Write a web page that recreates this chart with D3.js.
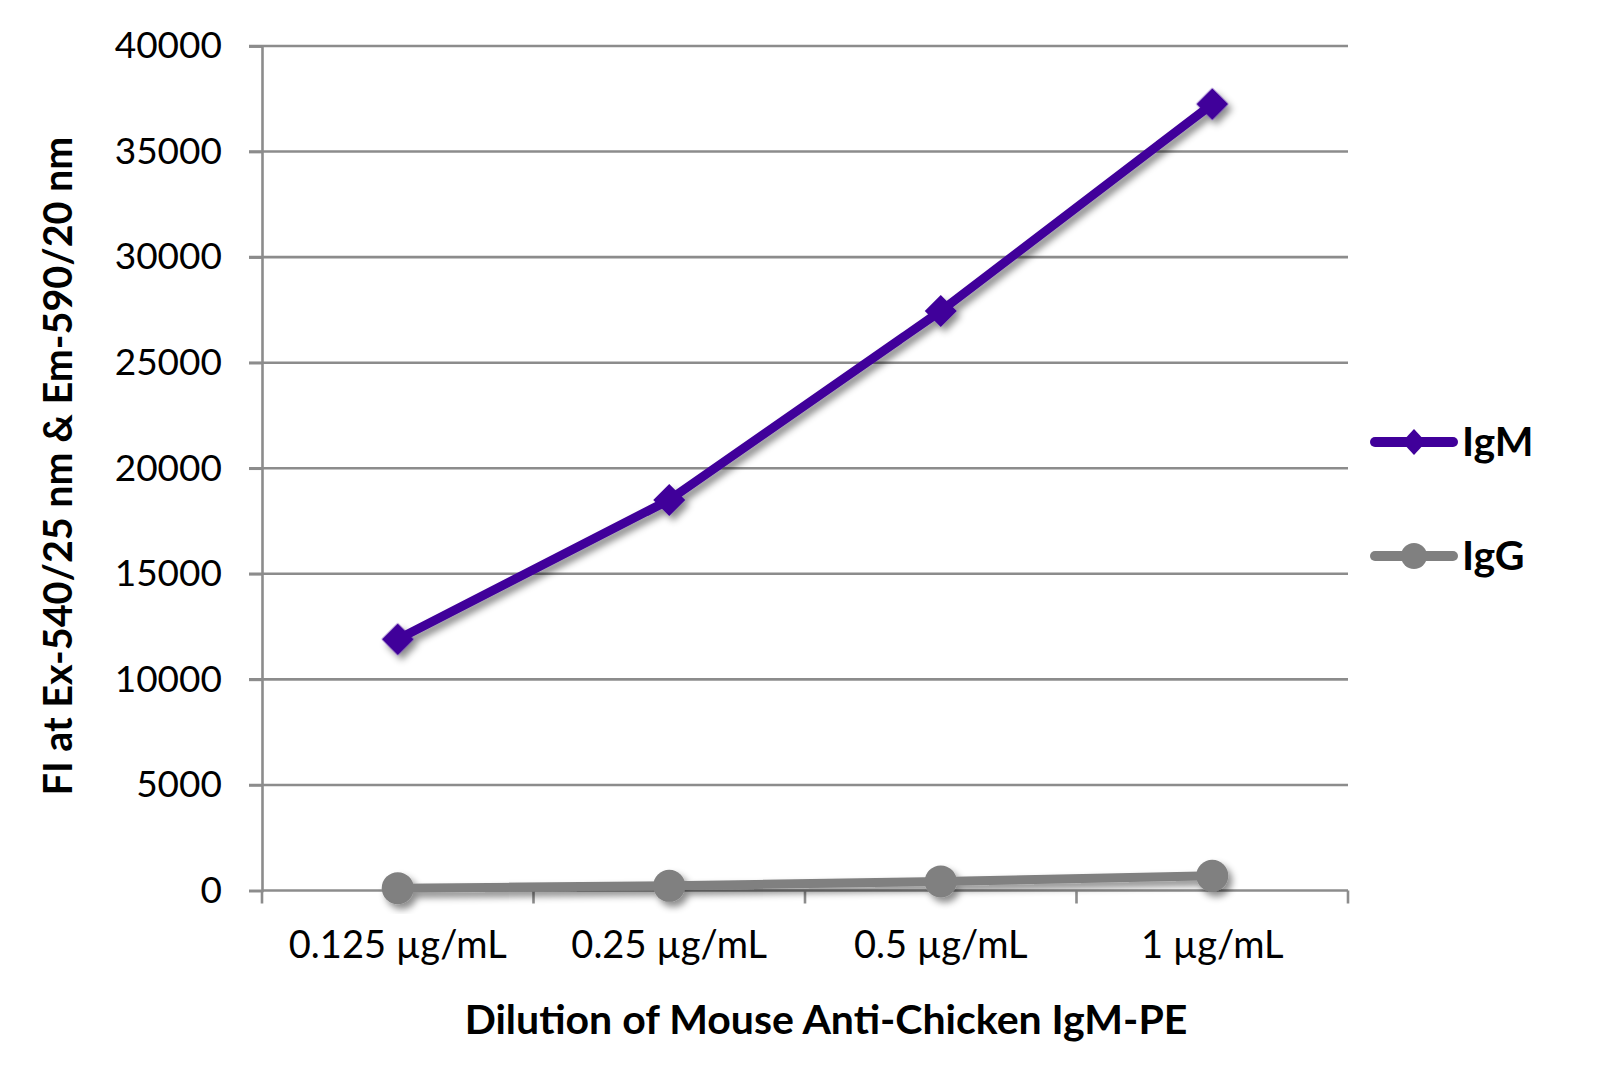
<!DOCTYPE html>
<html>
<head>
<meta charset="utf-8">
<script src="https://cdn.jsdelivr.net/npm/d3@7"></script>
<style>
  html, body { margin: 0; padding: 0; background: #fff; }
  svg { display: block; font-family: Lato, "Open Sans", sans-serif; }
</style>
</head>
<body>
<svg id="chart" width="1616" height="1082"></svg>
<script>
// Data
const categories = ['0.125 µg/mL', '0.25 µg/mL', '0.5 µg/mL', '1 µg/mL'];
const igmValues = [11900, 18500, 27450, 37250];
const iggValues = [110, 220, 430, 700];
const yTicks = [0, 5000, 10000, 15000, 20000, 25000, 30000, 35000, 40000];

const series = [
  { name: 'IgM', values: igmValues, color: '#40009a', marker: 'diamond' },
  { name: 'IgG', values: iggValues, color: '#808080', marker: 'circle' }
];

const svg = d3.select('#chart');

// Plot area
const plotLeft = 262, plotRight = 1348, plotTop = 46, plotBottom = 890.5;

const x = d3.scaleBand()
  .domain(categories)
  .range([plotLeft, plotRight]);

const y = d3.scaleLinear()
  .domain([0, 40000])
  .range([plotBottom, plotTop]);

// Drop shadow like the original
const defs = svg.append('defs');
defs.append('filter')
  .attr('id', 'shadow')
  .attr('x', '-20%').attr('y', '-20%')
  .attr('width', '140%').attr('height', '140%')
  .append('feDropShadow')
  .attr('dx', 4).attr('dy', 5)
  .attr('stdDeviation', 3.5)
  .attr('flood-color', '#000')
  .attr('flood-opacity', 0.45);

// Gridlines
svg.append('g')
  .selectAll('line')
  .data(yTicks.filter(d => d > 0))
  .enter().append('line')
  .attr('x1', plotLeft - 13)
  .attr('x2', plotRight)
  .attr('y1', d => y(d))
  .attr('y2', d => y(d))
  .attr('stroke', '#8c8c8c')
  .attr('stroke-width', 2.6);

// Y axis
const yAxis = svg.append('g')
  .attr('transform', `translate(${plotLeft},0)`)
  .call(d3.axisLeft(y).tickValues(yTicks).tickSize(13).tickPadding(27).tickFormat(d3.format('d')));
yAxis.select('.domain').attr('stroke', '#8c8c8c').attr('stroke-width', 2.6);
yAxis.selectAll('.tick line').attr('stroke', '#8c8c8c').attr('stroke-width', 2.6);
yAxis.selectAll('.tick text')
  .attr('font-size', 37)
  .attr('font-family', 'Lato, sans-serif')
  .attr('fill', '#000');

// X axis (ticks at band edges)
const xAxis = svg.append('g')
  .attr('transform', `translate(0,${plotBottom})`);
xAxis.append('line')
  .attr('x1', plotLeft).attr('x2', plotRight)
  .attr('stroke', '#8c8c8c').attr('stroke-width', 2.6);
xAxis.selectAll('.edge')
  .data(categories.map(c => x(c)).concat([plotRight]))
  .enter().append('line')
  .attr('x1', d => d).attr('x2', d => d)
  .attr('y1', 0).attr('y2', 13)
  .attr('stroke', '#8c8c8c').attr('stroke-width', 2.6);
xAxis.selectAll('.label')
  .data(categories)
  .enter().append('text')
  .attr('x', d => x(d) + x.bandwidth() / 2)
  .attr('y', 67)
  .attr('text-anchor', 'middle')
  .attr('font-size', 38)
  .attr('fill', '#000')
  .text(d => d);

// Axis titles
svg.append('text')
  .attr('x', 826)
  .attr('y', 1034)
  .attr('text-anchor', 'middle')
  .attr('font-size', 41)
  .attr('font-weight', 'bold')
  .attr('fill', '#000')
  .text('Dilution of Mouse Anti-Chicken IgM-PE');

svg.append('text')
  .attr('transform', 'translate(72,466) rotate(-90)')
  .attr('text-anchor', 'middle')
  .attr('font-size', 39.5)
  .attr('font-weight', 'bold')
  .attr('fill', '#000')
  .text('FI at Ex-540/25 nm & Em-590/20 nm');

// Lines and markers
const line = d3.line()
  .x((d, i) => x(categories[i]) + x.bandwidth() / 2)
  .y(d => y(d));

function drawMarker(sel, type, color, half) {
  if (type === 'diamond') {
    sel.append('path')
      .attr('d', d3.symbol().type(d3.symbolSquare).size(2 * half * half)())
      .attr('transform', 'rotate(45)')
      .attr('fill', color);
  } else {
    sel.append('circle')
      .attr('r', half)
      .attr('fill', color);
  }
}

// draw IgG first so IgM sits on top
series.slice().reverse().forEach(s => {
  const g = svg.append('g').attr('filter', 'url(#shadow)');
  g.append('path')
    .datum(s.values)
    .attr('d', line)
    .attr('fill', 'none')
    .attr('stroke', s.color)
    .attr('stroke-width', 9)
    .attr('stroke-linejoin', 'round');
  s.values.forEach((v, i) => {
    const m = g.append('g')
      .attr('transform', `translate(${x(categories[i]) + x.bandwidth() / 2},${y(v)})`);
    drawMarker(m, s.marker, s.color, 16);
  });
});

// Legend
const legend = svg.append('g');
series.forEach((s, i) => {
  const ly = 442 + i * 114;
  const item = legend.append('g').attr('transform', `translate(0,${ly})`);
  item.append('line')
    .attr('x1', 1375).attr('x2', 1453)
    .attr('stroke', s.color)
    .attr('stroke-width', 10)
    .attr('stroke-linecap', 'round');
  const m = item.append('g').attr('transform', 'translate(1414,0)');
  if (s.marker === 'diamond') {
    m.append('path')
      .attr('d', 'M0,-13L12,0L0,13L-12,0Z')
      .attr('fill', s.color);
  } else {
    m.append('circle').attr('r', 13).attr('fill', s.color);
  }
  item.append('text')
    .attr('x', 1462)
    .attr('y', 14)
    .attr('font-size', 41)
    .attr('font-weight', 'bold')
    .attr('fill', '#000')
    .text(s.name);
});
</script>
</body>
</html>
